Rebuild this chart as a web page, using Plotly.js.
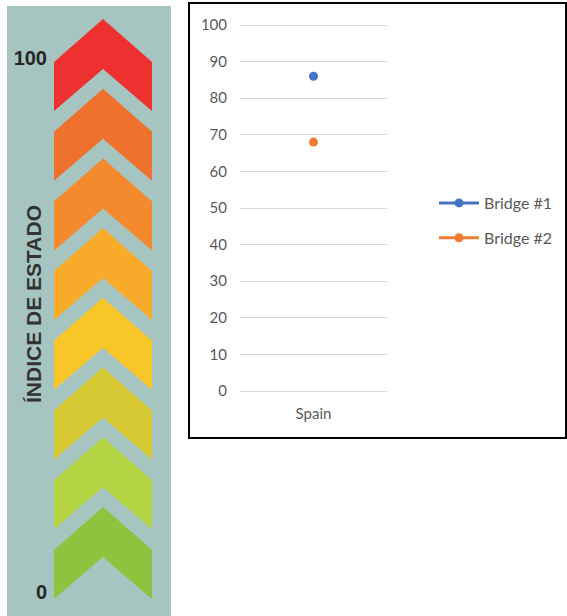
<!DOCTYPE html>
<html>
<head>
<meta charset="utf-8">
<script src="https://cdn.plot.ly/plotly-3.0.1.min.js"></script>
<style>html,body{margin:0;padding:0;background:#fff;}#chart{width:567px;height:616px;}</style>
</head>
<body>
<div id="chart"></div>
<script>
// ---- data ----
const categories = ["Spain"];
const bridge1 = [86];
const bridge2 = [68];
const seriesNames = ["Bridge #1", "Bridge #2"];
const seriesColors = ["#4472c4", "#ed7d31"];
const yTickVals = [0, 10, 20, 30, 40, 50, 60, 70, 80, 90, 100];
const gaugeTickVals = [0, 100];
const gaugeTickText = ["0", "100"];
const gaugeTitle = "ÍNDICE DE ESTADO";
const chevronColors = ["#ee3130", "#f0712e", "#f4892d", "#f8aa2b", "#f9c62a", "#d6c832", "#b5d444", "#8dc43f"];

// ---- layout helpers (pixel -> paper) ----
const W = 567, H = 616;
const px = x => x / W;
const py = y => 1 - y / H;

// gauge scale: value v drawn at pixel 592 - 5.34 v
const gScale = 5.34, gZero = 592;
const gRange = [(gZero - 616) / gScale, (gZero - 6) / gScale];
const topTip = (gZero - 19) / gScale;
const step = 69.7 / gScale;
const sideDrop = 43 / gScale, bottomDrop = 92 / gScale, notchDrop = 50 / gScale;

// main y scale: 3.66 px per unit, pad range so edge gridlines are drawn
const yPad = 0.6, yPxPerUnit = 3.66;

const shapes = [];
shapes.push({type: 'rect', xref: 'paper', yref: 'paper', x0: px(7), x1: px(171), y0: 0, y1: py(6),
  fillcolor: '#a7c5c0', line: {width: 0}, layer: 'below'});
chevronColors.forEach((c, i) => {
  const T = topTip - step * i;
  const p = `M 0,${T - sideDrop} L 0.5,${T} L 1,${T - sideDrop} L 1,${T - bottomDrop} L 0.5,${T - notchDrop} L 0,${T - bottomDrop} Z`;
  shapes.push({type: 'path', xref: 'x2', yref: 'y2', path: p, fillcolor: c, line: {width: 0}});
});
shapes.push({type: 'rect', xref: 'paper', yref: 'paper', x0: px(189), x1: px(566), y0: py(438), y1: py(3),
  line: {color: '#000', width: 2}, fillcolor: 'rgba(0,0,0,0)'});

const font = 'Lato, "Open Sans", sans-serif';
const traces = [
  {type: 'scatter', mode: 'lines+markers', x: categories, y: bridge1, name: seriesNames[0], legendgroup: 'a',
   marker: {color: seriesColors[0], size: 9}, line: {color: seriesColors[0], width: 3}},
  {type: 'scatter', mode: 'lines+markers', x: categories, y: bridge2, name: seriesNames[1], legendgroup: 'b',
   marker: {color: seriesColors[1], size: 9}, line: {color: seriesColors[1], width: 3}},
  {type: 'scatter', x: [], y: [], xaxis: 'x2', yaxis: 'y2', showlegend: false, hoverinfo: 'skip'}
];

const layout = {
  width: W, height: H,
  margin: {l: 0, r: 0, t: 0, b: 0},
  paper_bgcolor: '#fff', plot_bgcolor: 'rgba(0,0,0,0)',
  font: {family: font, size: 15, color: '#595959'},
  showlegend: true,
  legend: {x: px(434), y: py(186), xanchor: 'left', yanchor: 'top', bgcolor: 'rgba(0,0,0,0)', itemwidth: 40,
    tracegroupgap: 11, font: {family: font, size: 16, color: '#595959'}},
  xaxis: {domain: [px(240), px(387)], type: 'category', showgrid: false, zeroline: false, showline: false,
    ticks: '', ticklabelstandoff: 10, tickfont: {family: font, size: 15, color: '#595959'}, fixedrange: true},
  yaxis: {domain: [py(391 + yPad * yPxPerUnit), py(25 - yPad * yPxPerUnit)], range: [-yPad, 100 + yPad],
    tickvals: yTickVals, showgrid: true, gridcolor: '#d9d9d9',
    gridwidth: 1, zeroline: false, showline: false, ticks: '', ticklabelstandoff: 12,
    tickfont: {family: font, size: 15, color: '#595959'}, fixedrange: true},
  xaxis2: {domain: [px(7), px(171)], range: [-47 / 98, 117 / 98], anchor: 'y2', visible: false, fixedrange: true},
  yaxis2: {domain: [0, py(6)], range: gRange, anchor: 'free', position: px(47), tickvals: gaugeTickVals,
    ticktext: gaugeTickText, showgrid: false, zeroline: false, showline: false, ticks: '',
    tickfont: {family: '"Liberation Sans", Arial, sans-serif', size: 20, weight: 'bold', color: '#262626'}, fixedrange: true},
  annotations: [{xref: 'paper', yref: 'paper', x: px(34), y: py(304), xanchor: 'center', yanchor: 'middle',
    text: gaugeTitle, showarrow: false, textangle: -90,
    font: {family: '"Liberation Sans", Arial, sans-serif', size: 21, weight: 'bold', color: '#333'}}],
  shapes: shapes
};
Plotly.newPlot('chart', traces, layout, {staticPlot: true, displayModeBar: false});
</script>
</body>
</html>
